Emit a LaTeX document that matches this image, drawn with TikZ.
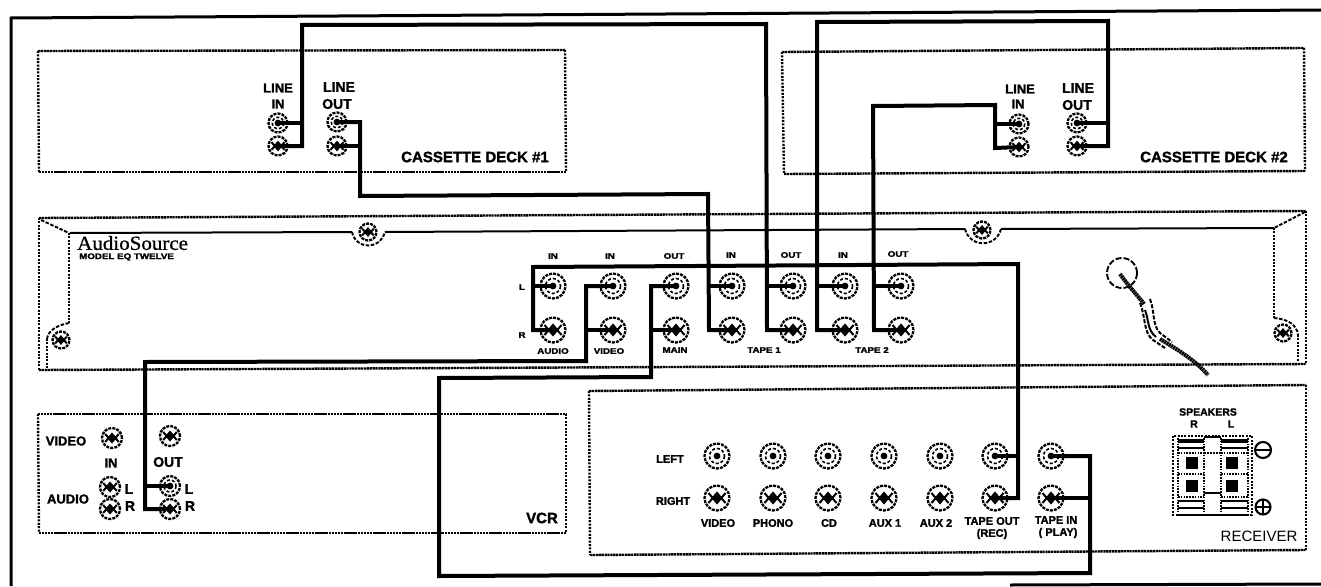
\documentclass[tikz,border=0pt]{standalone}
\usepackage{fontspec}
\setmainfont{Liberation Sans}[BoldFeatures={FakeBold=1.6}]
\newfontfamily\widefont{Liberation Sans}[FakeStretch=1.22,BoldFeatures={FakeBold=2.2}]
\newfontfamily\logofont{Liberation Serif}[FakeStretch=1.05,FakeBold=0.8]
\usetikzlibrary{calc}
\tikzset{
  wire/.style={line width=4pt,line join=miter,line cap=butt},
  doth/.style={line width=2.4pt,dash pattern=on 2.3pt off 0.6pt},
  dotv/.style={line width=2.4pt,dash pattern=on 2pt off 1.4pt},
  thinrim/.style={line width=2pt},
  dashrim/.style={line width=1.9pt,dash pattern=on 3.5pt off 1.6pt},
  lab/.style={font=\bfseries\fontsize{#1}{#1}\selectfont,inner sep=0pt,align=center},
  tiny lab/.style={font=\widefont\bfseries\fontsize{8}{8}\selectfont,inner sep=0pt},
  jackbase/.style={circle,draw,inner sep=0pt,minimum size=#1,line width=2.3pt,dash pattern=on 3pt off 1.1pt},
  jacka/.style={jackbase=#1,path picture={
     \fill (path picture bounding box.center) circle (3.4pt);
     \draw[line width=1.6pt,dash pattern=on 3pt off 2pt] (path picture bounding box.center) circle (0.3*#1);}},
  jackb/.style={jackbase=#1,path picture={
     \fill (path picture bounding box.center) circle (3pt);
     \draw[line width=2pt,solid] ($(path picture bounding box.center)+(-0.34*#1,-0.2*#1)$) -- ++(0.17*#1,0.2*#1) -- ++(0.17*#1,-0.2*#1) -- ++(0.17*#1,0.2*#1) -- ++(0.17*#1,-0.2*#1);
     \draw[line width=2pt,solid] ($(path picture bounding box.center)+(-0.34*#1,0.2*#1)$) -- ++(0.17*#1,-0.2*#1) -- ++(0.17*#1,0.2*#1) -- ++(0.17*#1,-0.2*#1) -- ++(0.17*#1,0.2*#1);}},
}
\newcommand{\panelbox}[8]{%
  \draw[doth] (#1,#2) -- (#3,#4);
  \draw[doth] (#5,#6) -- (#7,#8);
  \draw[dotv] (#3,#4) -- (#7,#8);
  \draw[dotv] (#1,#2) -- (#5,#6);
}
\begin{document}
\begin{tikzpicture}[x=1pt,y=-1pt]
\useasboundingbox (0,0) rectangle (1321,586);
% outer frame
\draw[line width=3pt] (11,586) -- (11,18) -- (1321,10);
\draw[line width=3pt] (1010,585) -- (1321,584);
% panels
\panelbox{38}{51}{565}{50}{39}{172}{566}{172}
\panelbox{782}{52}{1304}{48}{784}{174}{1305}{171}
\panelbox{39}{218}{1306}{211}{39}{370}{1306}{364}
\panelbox{38}{414}{566}{414}{39}{533}{566}{533}
\panelbox{589}{391}{1306}{385}{590}{555}{1306}{550}
% equaliser inner lines
\draw[dashrim] (41,220) -- (69,233);
\draw[dashrim] (1305,212) -- (1274,228);
\draw[thinrim] (70,233) -- (352,232);
\draw[thinrim] (385,232) -- (965,229);
\draw[thinrim] (1001,229) -- (1274,228);
\draw[dashrim] (352,232) .. controls (356,250) and (380,250) .. (385,232);
\draw[dashrim] (965,229) .. controls (970,248) and (996,248) .. (1001,229);
\draw[dotv,line width=1.9pt] (69,233) -- (69,323);
\draw[dotv,line width=1.9pt] (1274,228) -- (1274,318);
\draw[dashrim] (69,323) .. controls (58,325) and (48,330) .. (47,339);
\draw[dotv,line width=1.9pt] (47,339) -- (47,369);
\draw[dashrim] (1274,318) .. controls (1288,319) and (1297,325) .. (1298,335);
\draw[dotv,line width=1.9pt] (1298,335) -- (1298,362);
% screws
\node[jackb=17] (s1) at (368,232) {};
\node[jackb=17] (s2) at (982,230) {};
\node[jackb=17] (s3) at (61,340) {};
\node[jackb=17] (s4) at (1283,333) {};
% power cord
\draw[line width=1.9pt,dash pattern=on 6pt off 2pt] (1122,273) circle (15pt);
\draw[line width=4pt,dash pattern=on 2pt off 0.6pt] (1120,274) .. controls (1130,288) and (1138,296) .. (1144,304);
\draw[line width=2pt,dash pattern=on 4pt off 1.6pt] (1140,303) .. controls (1146,318) and (1143,332) .. (1153,340) -- (1165,348);
\draw[line width=2pt,dash pattern=on 4pt off 1.6pt] (1150,299) .. controls (1155,312) and (1152,325) .. (1160,333) -- (1172,342);
\draw[line width=2pt] (1145,310) .. controls (1149,320) and (1147,330) .. (1156,337);
\draw[line width=4pt,dash pattern=on 2pt off 0.6pt] (1160,339) .. controls (1178,350) and (1195,360) .. (1208,375);
% deck 1 jacks
\node[jacka=19] (d1ia) at (278,123) {};
\node[jackb=19] (d1ib) at (278,146) {};
\node[jacka=19] (d1oa) at (337,122) {};
\node[jackb=19] (d1ob) at (337,146) {};
% deck 2 jacks
\node[jacka=19] (d2ia) at (1019,124) {};
\node[jackb=19] (d2ib) at (1019,147) {};
\node[jacka=19] (d2oa) at (1077,123) {};
\node[jackb=19] (d2ob) at (1077,146) {};
% equaliser jacks
\foreach \n/\x in {aud/553,vid/613,mai/676,ta/732,tb/793,tc/845,td/901}{
  \node[jacka=25] (\n l) at (\x,286) {};
  \node[jackb=25] (\n r) at (\x,330) {};
}
% receiver jacks
\foreach \n/\x in {rv/717,rp/773,rc/828,ra/884,rb/940,ro/995,ri/1051}{
  \node[jacka=25] (\n l) at (\x,456) {};
  \node[jackb=25] (\n r) at (\x,498) {};
}
% VCR jacks
\node[jackb=20] (vvi) at (112,438) {};
\node[jackb=20] (vvo) at (170,436) {};
\node[jackb=20] (vil) at (110,487) {};
\node[jackb=20] (vir) at (110,509) {};
\node[jacka=20] (vol) at (170,486) {};
\node[jackb=20] (vor) at (170,509) {};
% wire waypoints
\coordinate (a1) at (302,123); \coordinate (a2) at (302,146); \coordinate (a3) at (302,25);
\coordinate (a4) at (766,24); \coordinate (a5) at (767,286); \coordinate (a6) at (767,330);
\coordinate (b1) at (360,122); \coordinate (b2) at (360,146); \coordinate (b3) at (360,196);
\coordinate (b4) at (708,194); \coordinate (b5) at (709,286); \coordinate (b6) at (709,330);
\coordinate (c1) at (1108,123); \coordinate (c2) at (1108,146); \coordinate (c3) at (1108,21);
\coordinate (c4) at (817,22); \coordinate (c5) at (817,286); \coordinate (c6) at (817,330);
\coordinate (e1) at (995,124); \coordinate (e2) at (995,148); \coordinate (e3) at (995,105);
\coordinate (e4) at (873,106); \coordinate (e5) at (874,286); \coordinate (e6) at (874,330);
\coordinate (f1) at (533,330); \coordinate (f2) at (533,286); \coordinate (f3) at (533,267);
\coordinate (f4) at (1018,264); \coordinate (f5) at (1018,456); \coordinate (f6) at (1018,498);
\coordinate (g1) at (586,286); \coordinate (g2) at (586,330); \coordinate (g3) at (586,361);
\coordinate (g4) at (145,362); \coordinate (g5) at (145,486); \coordinate (g6) at (145,509);
\coordinate (h1) at (651,286); \coordinate (h2) at (651,330); \coordinate (h3) at (651,377);
\coordinate (h4) at (439,378); \coordinate (h5) at (439,576); \coordinate (h6) at (1090,573);
\coordinate (h7) at (1090,498); \coordinate (h8) at (1090,456);
% wires
\draw[wire] (d1ib.center) -- (a2) -- (a3) -- (a4) -- (a6) -- (tbr.center);
\draw[wire] (d1ia.center) -- (a1);
\draw[wire] (tbl.center) -- (a5);
\draw[wire] (d1oa.center) -- (b1) -- (b3) -- (b4) -- (b6) -- (tar.center);
\draw[wire] (d1ob.center) -- (b2);
\draw[wire] (tal.center) -- (b5);
\draw[wire] (d2ob.center) -- (c2) -- (c3) -- (c4) -- (c6) -- (tcr.center);
\draw[wire] (d2oa.center) -- (c1);
\draw[wire] (tcl.center) -- (c5);
\draw[wire] (d2ib.center) -- (e2) -- (e3) -- (e4) -- (e6) -- (tdr.center);
\draw[wire] (d2ia.center) -- (e1);
\draw[wire] (tdl.center) -- (e5);
\draw[wire] (audr.center) -- (f1) -- (f3) -- (f4) -- (f6) -- (ror.center);
\draw[wire] (audl.center) -- (f2);
\draw[wire] (rol.center) -- (f5);
\draw[wire] (vidl.center) -- (g1) -- (g3) -- (g4) -- (g6) -- (vor.center);
\draw[wire] (vidr.center) -- (g2);
\draw[wire] (vol.center) -- (g5);
\draw[wire] (mail.center) -- (h1) -- (h3) -- (h4) -- (h5) -- (h6) -- (h8) -- (ril.center);
\draw[wire] (mair.center) -- (h2);
\draw[wire] (rir.center) -- (h7);
% deck labels
\node[lab=13] (t1) at (278,88) {LINE};
\node[lab=13] (t2) at (278,104) {IN};
\node[lab=14] (t3) at (339,87) {LINE};
\node[lab=14] (t4) at (337,104) {OUT};
\node[lab=15] (t5) at (475,157) {CASSETTE DECK \#1};
\node[lab=13] (t6) at (1020,89) {LINE};
\node[lab=13] (t7) at (1018,104) {IN};
\node[lab=14] (t8) at (1078,88) {LINE};
\node[lab=14] (t9) at (1077,105) {OUT};
\node[lab=15] (t10) at (1214,157) {CASSETTE DECK \#2};
% equaliser labels
\node[inner sep=0pt,anchor=west,font=\logofont\fontsize{20}{20}\selectfont] (t11) at (77,243) {AudioSource};
\node[tiny lab,anchor=west] (t12) at (79,257) {MODEL EQ TWELVE};
\node[tiny lab] (t13) at (553,256) {IN};
\node[tiny lab] (t14) at (610,256) {IN};
\node[tiny lab] (t15) at (674,256) {OUT};
\node[tiny lab] (t16) at (731,255) {IN};
\node[tiny lab] (t17) at (791,255) {OUT};
\node[tiny lab] (t18) at (843,255) {IN};
\node[tiny lab] (t19) at (898,254) {OUT};
\node[tiny lab] (t20) at (522,287) {L};
\node[tiny lab] (t21) at (522,335) {R};
\node[tiny lab] (t22) at (553,351) {AUDIO};
\node[tiny lab] (t23) at (609,351) {VIDEO};
\node[tiny lab] (t24) at (675,350) {MAIN};
\node[tiny lab] (t25) at (764,350) {TAPE 1};
\node[tiny lab] (t26) at (872,350) {TAPE 2};
% VCR labels
\node[lab=13] (t27) at (66,441) {VIDEO};
\node[lab=13] (t28) at (68,499) {AUDIO};
\node[lab=13] (t29) at (111,463) {IN};
\node[lab=14] (t30) at (168,462) {OUT};
\node[lab=14] (t31) at (129,489) {L};
\node[lab=14] (t32) at (130,506) {R};
\node[lab=14] (t33) at (189,489) {L};
\node[lab=14] (t34) at (190,506) {R};
\node[lab=15] (t35) at (542,518) {VCR};
% receiver labels
\node[lab=11] (t36) at (670,459) {LEFT};
\node[lab=11] (t37) at (673,501) {RIGHT};
\node[lab=11] (t38) at (718,523) {VIDEO};
\node[lab=11] (t39) at (773,523) {PHONO};
\node[lab=11] (t40) at (829,523) {CD};
\node[lab=11] (t41) at (885,523) {AUX 1};
\node[lab=11] (t42) at (936,523) {AUX 2};
\node[lab=11] (t43) at (992,521) {TAPE OUT};
\node[lab=11] (t44) at (992,534) {(REC)};
\node[lab=11] (t45) at (1056,520) {TAPE IN};
\node[lab=11] (t46) at (1058,533) {( PLAY)};
\node[inner sep=0pt,font=\fontsize{15}{15}\selectfont] (t47) at (1259,536) {RECEIVER};
% speakers
\node[lab=10.5] (t48) at (1208,412) {SPEAKERS};
\node[lab=10.5] (t49) at (1194,424) {R};
\node[lab=10.5] (t50) at (1231,424) {L};
\draw[dotv,line width=1.9pt] (1173,436) rectangle (1252,515);
\foreach \xa/\xb in {1178/1204,1221/1248}{
  \draw[line width=3.2pt] (\xa,441) -- (\xb,441);
  \draw[line width=2pt] (\xa,448) -- (\xb,448);
  \draw[line width=2pt,dash pattern=on 1.6pt off 1.2pt] (\xa,453) -- (\xb,453);
  \draw[line width=2pt,dash pattern=on 1.6pt off 1.2pt] (\xa,474) -- (\xb,474);
  \draw[line width=2pt,dash pattern=on 1.6pt off 1.2pt] (\xa,497) -- (\xb,497);
  \draw[line width=2pt] (\xa,501) -- (\xb,501);
  \draw[line width=1.6pt] (\xa,508) -- (\xb,508);
  \draw[line width=1.6pt] (\xa,515) -- (\xb,515);
  \draw[line width=2pt,dash pattern=on 1.6pt off 1.2pt] (\xa,438) -- (\xa,515);
  \draw[line width=2pt,dash pattern=on 1.6pt off 1.2pt] (\xb,438) -- (\xb,515);
}
\draw[line width=1.4pt] (1204,437) -- (1221,437);
\draw[line width=1.8pt,dash pattern=on 1.6pt off 1.4pt] (1204,453) -- (1221,453);
\draw[line width=1.8pt] (1204,493) -- (1221,493);
\draw[line width=1.6pt] (1204,515) -- (1221,515);
\foreach \x/\y in {1192/463,1192/486,1232/463,1232/486}{
  \fill (\x-6,\y-6) rectangle (\x+6,\y+6);
}
\draw[line width=2.1pt] (1263,450) circle (8pt);
\draw[line width=2.1pt] (1255,450) -- (1271,450);
\draw[line width=2.1pt] (1263,507) circle (7.5pt);
\draw[line width=2.1pt] (1255.5,507) -- (1270.5,507) (1263,499.5) -- (1263,514.5);
\end{tikzpicture}
\end{document}
